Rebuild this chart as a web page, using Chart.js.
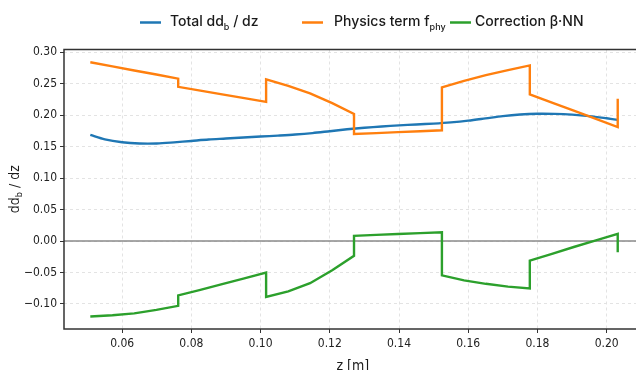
<!DOCTYPE html>
<html>
<head>
<meta charset="utf-8">
<script src="https://cdn.jsdelivr.net/npm/chart.js@4"></script>
<style>
  html, body { margin: 0; padding: 0; background: #fff; overflow: hidden; }
  #wrap { position: relative; width: 650px; height: 370px; }
</style>
</head>
<body>
<div id="wrap"><canvas id="chart"></canvas></div>
<script>
// ticks
const xTicks = [0.06, 0.08, 0.10, 0.12, 0.14, 0.16, 0.18, 0.20];
const yTicks = [-0.10, -0.05, 0.00, 0.05, 0.10, 0.15, 0.20, 0.25, 0.30];

// total dd_b/dz (smooth)
const zTotal = [0.0508, 0.055, 0.060, 0.065, 0.070, 0.075, 0.080, 0.085, 0.090, 0.095, 0.100,
  0.105, 0.110, 0.115, 0.120, 0.125, 0.130, 0.135, 0.140, 0.145, 0.150, 0.155, 0.160, 0.165,
  0.170, 0.175, 0.180, 0.185, 0.190, 0.195, 0.200, 0.2032];
const total = [0.1685, 0.1615, 0.1570, 0.1550, 0.1550, 0.1568, 0.1590, 0.1612, 0.1628, 0.1645, 0.1660,
  0.1675, 0.1692, 0.1715, 0.1745, 0.1775, 0.1800, 0.1820, 0.1838, 0.1852, 0.1866, 0.1885, 0.1912, 0.1948,
  0.1985, 0.2010, 0.2022, 0.2020, 0.2008, 0.1985, 0.1950, 0.1925];

// piecewise segments (jumps every 0.0254 m)
const zSeg = [0.0508, 0.0572, 0.0635, 0.0699, 0.0762, 0.0762, 0.0826, 0.0889, 0.0953, 0.1016,
  0.1016, 0.1080, 0.1143, 0.1207, 0.1270, 0.1270, 0.1334, 0.1397, 0.1461, 0.1524,
  0.1524, 0.1588, 0.1651, 0.1715, 0.1778, 0.1778, 0.1842, 0.1905, 0.1969, 0.2032, 0.2032];
const physics = [0.284, 0.2775, 0.271, 0.2645, 0.258, 0.245, 0.239, 0.233, 0.227, 0.221,
  0.257, 0.2465, 0.2345, 0.219, 0.202, 0.170, 0.1715, 0.173, 0.1745, 0.176,
  0.244, 0.2545, 0.2635, 0.2715, 0.279, 0.233, 0.220, 0.207, 0.194, 0.181, 0.226];
const correction = [-0.1200, -0.1180, -0.1150, -0.1095, -0.1030, -0.0863, -0.0775, -0.0685, -0.0595, -0.0503,
  -0.0890, -0.0800, -0.0670, -0.0465, -0.0236, 0.0082, 0.0097, 0.0112, 0.0126, 0.0140,
  -0.0545, -0.0625, -0.0680, -0.0725, -0.0752, -0.0312, -0.0205, -0.0095, 0.0010, 0.0113, -0.0178];

const pts = (xs, ys) => xs.map((x, i) => ({ x: x, y: ys[i] }));
const tickFont = { family: "'DejaVu Sans Condensed', 'DejaVu Sans', sans-serif", size: 12 };
const fmt = v => (v < -1e-9 ? '\u2212' + Math.abs(v).toFixed(2) : Math.abs(v).toFixed(2));

// text with subscripts: parts = [[text, isSub], ...]
function richWidth(ctx, parts, font, subFont) {
  let w = 0;
  parts.forEach(p => { ctx.font = p[1] ? subFont : font; w += ctx.measureText(p[0]).width; });
  return w;
}
function drawRich(ctx, parts, x, y, font, subFont, subDy) {
  ctx.textBaseline = 'middle';
  ctx.textAlign = 'left';
  parts.forEach(p => {
    ctx.font = p[1] ? subFont : font;
    ctx.fillText(p[0], x, p[1] ? y + subDy : y);
    x += ctx.measureText(p[0]).width;
  });
}

const legendItems = [
  { color: '#1f77b4', x: 140, tx: 170, parts: [['Total dd', false], ['b', true], [' / dz', false]] },
  { color: '#ff7f0e', x: 302, tx: 334, parts: [['Physics term f', false], ['phy', true]] },
  { color: '#2ca02c', x: 450, tx: 475, parts: [['Correction \u03b2\u00b7NN', false]] }
];

const decor = {
  id: 'decor',
  beforeDatasetsDraw(chart) {
    const { ctx, chartArea: a, scales: { y } } = chart;
    const y0 = y.getPixelForValue(0);
    ctx.save();
    ctx.strokeStyle = '#8a8a8a';
    ctx.lineWidth = 1.4;
    ctx.beginPath();
    ctx.moveTo(a.left, y0);
    ctx.lineTo(a.right, y0);
    ctx.stroke();
    ctx.restore();
  },
  afterDatasetsDraw(chart) {
    const { ctx, chartArea: a } = chart;
    ctx.save();
    ctx.strokeStyle = '#333';
    ctx.lineWidth = 1.5;
    ctx.strokeRect(a.left, a.top, a.right - a.left, a.bottom - a.top);

    // legend
    const lf = "500 14px Inter, 'Open Sans', sans-serif";
    const lsf = "500 9px Inter, 'Open Sans', sans-serif";
    ctx.fillStyle = '#1a1a1a';
    legendItems.forEach(it => {
      ctx.strokeStyle = it.color;
      ctx.lineWidth = 2.5;
      ctx.beginPath();
      ctx.moveTo(it.x, 22.5);
      ctx.lineTo(it.x + 21, 22.5);
      ctx.stroke();
      drawRich(ctx, it.parts, it.tx, 22, lf, lsf, 5);
    });

    // axis titles
    const tf = "14px 'DejaVu Sans Condensed', 'DejaVu Sans', sans-serif";
    const tsf = "9px 'DejaVu Sans Condensed', 'DejaVu Sans', sans-serif";
    const yParts = [['dd', false], ['b', true], [' / dz', false]];
    const w = richWidth(ctx, yParts, tf, tsf);
    ctx.save();
    ctx.translate(15, (a.top + a.bottom) / 2);
    ctx.rotate(-Math.PI / 2);
    drawRich(ctx, yParts, -w / 2, 0, tf, tsf, 4.5);
    ctx.restore();

    ctx.font = tf;
    ctx.textAlign = 'center';
    ctx.textBaseline = 'middle';
    ctx.fillText('z [m]', (a.left + a.right) / 2, 366);
    ctx.restore();
  }
};

new Chart(document.getElementById('chart'), {
  type: 'line',
  data: {
    datasets: [
      { label: 'Total dd_b / dz', data: pts(zTotal, total), borderColor: '#1f77b4',
        borderWidth: 2.4, pointRadius: 0, tension: 0.3, order: 3 },
      { label: 'Physics term f_phy', data: pts(zSeg, physics), borderColor: '#ff7f0e',
        borderWidth: 2.4, pointRadius: 0, tension: 0, order: 2 },
      { label: 'Correction β·NN', data: pts(zSeg, correction), borderColor: '#2ca02c',
        borderWidth: 2.4, pointRadius: 0, tension: 0, order: 1 }
    ]
  },
  options: {
    responsive: true,
    maintainAspectRatio: false,
    animation: false,
    layout: { padding: { top: 49.5, right: 8.4, bottom: 0, left: 0 } },
    plugins: { legend: { display: false }, tooltip: { enabled: false } },
    scales: {
      x: {
        type: 'linear', min: 0.0432, max: 0.2101,
        afterBuildTicks: s => { s.ticks = xTicks.map(v => ({ value: v })); },
        afterFit: s => { s.height = 41; },
        ticks: { font: tickFont, color: '#222', padding: 4, maxRotation: 0, callback: v => fmt(v) },
        grid: { color: '#e0e0e0', lineWidth: 0.9, tickLength: 4, tickColor: '#333', tickWidth: 1 },
        border: { display: false, dash: [3, 3] }
      },
      y: {
        min: -0.1398, max: 0.3043,
        afterBuildTicks: s => { s.ticks = yTicks.map(v => ({ value: v })); },
        afterFit: s => { s.width = 64; },
        ticks: { font: tickFont, color: '#222', padding: 3, callback: v => fmt(v) },
        grid: { color: '#e0e0e0', lineWidth: 0.9, tickLength: 4, tickColor: '#333', tickWidth: 1 },
        border: { display: false, dash: [3, 3] }
      }
    }
  },
  plugins: [decor]
});
</script>
</body>
</html>
